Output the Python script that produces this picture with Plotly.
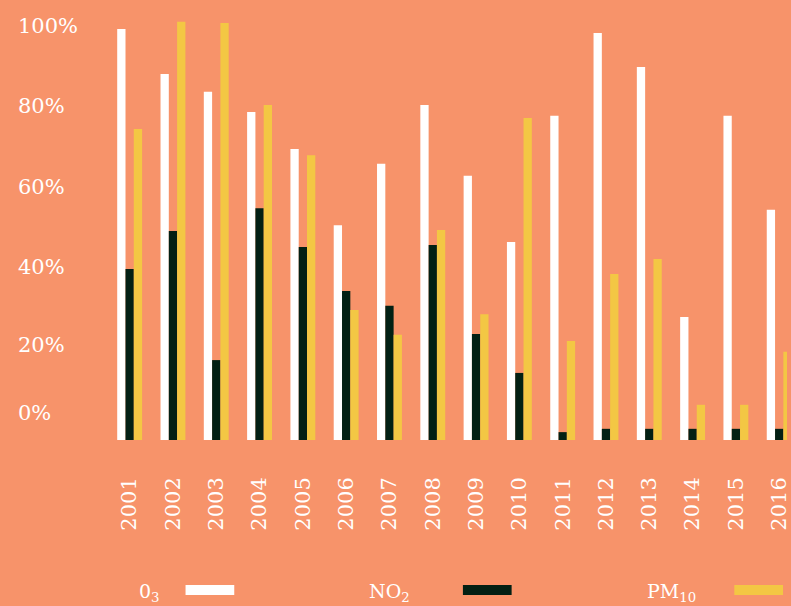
import plotly.graph_objects as go

years = [str(y) for y in range(2001, 2017)]

# values (% scale, 100 = top label)
o3 = [99.3, 88.4, 84.1, 79.2, 70.3, 51.9, 66.7, 80.9, 63.8, 47.8, 78.3, 98.3, 90.1, 29.7, 78.3, 55.6]
no2 = [41.3, 50.5, 19.3, 56.0, 46.6, 36.0, 32.4, 47.1, 25.6, 16.2, 1.9, 2.7, 2.7, 2.7, 2.7, 2.7]
pm10 = [75.1, 101.0, 100.7, 80.9, 68.8, 31.4, 25.4, 50.7, 30.4, 77.8, 23.9, 40.1, 43.7, 8.5, 8.5, 21.3]

ytick_text = ["100%", "80%", "60%", "40%", "20%", "0%"]
ytick_pos = [100, 80.7, 61.1, 41.8, 22.9, 6.5]

series_names = ["0<sub>3</sub>", "NO<sub>2</sub>", "PM<sub>10</sub>"]
colors = ["#FFFFFF", "#022014", "#F3C744"]
bg = "#F7936A"
font = "DejaVu Serif"

W, H = 791, 606
L, R, T, B = 108, 0, 0, 166
pw, ph = W - L - R, H - T - B


def px_x(p):
    return (p - L) / pw


def px_y(p):
    return (H - B - p) / ph


fig = go.Figure()
for name, vals, col in zip(series_names, [o3, no2, pm10], colors):
    fig.add_trace(go.Bar(x=years, y=vals, name=name, marker_color=col,
                         marker_line_width=0, showlegend=False))

fig.update_layout(
    width=W, height=H,
    paper_bgcolor=bg, plot_bgcolor=bg,
    margin=dict(l=L, r=R, t=T, b=B),
    barmode="group", bargap=0.425, bargroupgap=0,
    font=dict(family=font, color="white"),
)
fig.update_xaxes(type="category", range=[-0.5, 15.18], showgrid=False, zeroline=False,
                 showline=False, tickangle=-90, tickfont=dict(size=21, color="white"),
                 ticks="", ticklabelstandoff=32)
fig.update_yaxes(range=[0, ph / 4.14], showgrid=False, zeroline=False, showline=False,
                 showticklabels=False)

for txt, pos in zip(ytick_text, ytick_pos):
    fig.add_annotation(x=px_x(15), xref="paper", y=pos, yref="y", text=txt,
                       showarrow=False, xanchor="left", yanchor="middle",
                       font=dict(size=21, color="white", family=font))

# custom legend: label then swatch
legend_text_x = [137, 369, 648]
legend_swatch_x = [186, 465, 738]
for name, col, tx, sx in zip(series_names, colors, legend_text_x, legend_swatch_x):
    fig.add_annotation(x=px_x(tx), xref="paper", y=px_y(592), yref="paper", text=name,
                       showarrow=False, xanchor="left", yanchor="middle",
                       font=dict(size=19, color="white", family=font))
    fig.add_shape(type="rect", xref="paper", yref="paper",
                  x0=px_x(sx), x1=px_x(sx + 49), y0=px_y(595), y1=px_y(585),
                  fillcolor=col, line_width=0)

fig.write_html("out.html", config={"displayModeBar": False},
               post_script="document.body.style.margin='0';")
